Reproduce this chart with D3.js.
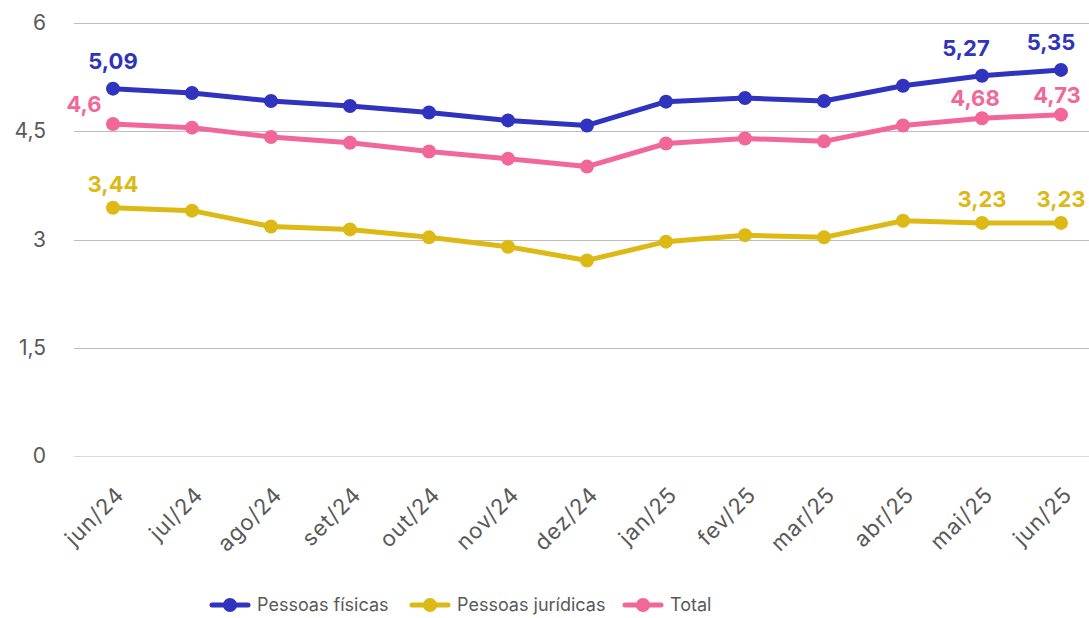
<!DOCTYPE html>
<html>
<head>
<meta charset="utf-8">
<script src="https://cdn.jsdelivr.net/npm/d3@7"></script>
<style>
  body { margin: 0; background: #fff; }
  svg { display: block; font-family: "Inter", "Lato", sans-serif; }
</style>
</head>
<body>
<div id="chart"></div>
<script>
var months = ['jun/24', 'jul/24', 'ago/24', 'set/24', 'out/24', 'nov/24', 'dez/24',
              'jan/25', 'fev/25', 'mar/25', 'abr/25', 'mai/25', 'jun/25'];
var fisicas   = [5.09, 5.03, 4.92, 4.85, 4.76, 4.65, 4.58, 4.91, 4.96, 4.92, 5.13, 5.27, 5.35];
var juridicas = [3.44, 3.40, 3.18, 3.14, 3.03, 2.90, 2.71, 2.97, 3.06, 3.03, 3.26, 3.23, 3.23];
var total     = [4.60, 4.55, 4.42, 4.34, 4.22, 4.12, 4.01, 4.33, 4.40, 4.36, 4.58, 4.68, 4.73];
var yTicks = [0, 1.5, 3, 4.5, 6];
// only these points get a value label
var labelled = [0, 11, 12];

var width = 1089, height = 618;

var series = [
    { name: 'Pessoas físicas', values: fisicas, color: '#2f33bd', dx: [0, -16, -10], dy: -20 },
    { name: 'Pessoas jurídicas', values: juridicas, color: '#dcb914', dx: [0, 0, 0], dy: -16 },
    { name: 'Total', values: total, color: '#f2679a', dx: [-29, -7, -4], dy: -12 }
];

var svg = d3.select('#chart').append('svg')
    .attr('width', width)
    .attr('height', height);

var x = d3.scalePoint()
    .domain(months)
    .range([113, 1061]);

var y = d3.scaleLinear()
    .domain([0, 6])
    .range([456, 23]);

// grid
svg.append('g').selectAll('line')
    .data(yTicks)
    .enter().append('line')
    .attr('x1', 74)
    .attr('x2', width)
    .attr('y1', function(d) { return Math.round(y(d)) + 0.5; })
    .attr('y2', function(d) { return Math.round(y(d)) + 0.5; })
    .style('stroke', function(d) { return d === 0 ? '#d9d9d9' : '#bdbdbd'; })
    .style('stroke-width', 1);

// y axis labels
var yAxis = d3.axisLeft(y)
    .tickValues(yTicks)
    .tickSize(0)
    .tickPadding(0)
    .tickFormat(function(d) { return String(d).replace('.', ','); });

svg.append('g')
    .attr('transform', 'translate(46,0)')
    .call(yAxis)
    .call(function(g) { g.select('.domain').remove(); })
    .selectAll('text')
    .attr('dy', '0.32em')
    .style('font-family', '"Inter", "Lato", sans-serif')
    .style('font-size', '21px')
    .style('fill', '#595959');

// x axis labels
var xAxis = d3.axisBottom(x).tickSize(0).tickPadding(0);
svg.append('g')
    .attr('transform', 'translate(0,456)')
    .call(xAxis)
    .call(function(g) { g.select('.domain').remove(); })
    .selectAll('text')
    .attr('text-anchor', 'end')
    .attr('dy', 0)
    .attr('transform', 'translate(12,40) rotate(-45)')
    .style('font-family', '"Inter", "Lato", sans-serif')
    .style('font-size', '22px')
    .style('letter-spacing', '1px')
    .style('fill', '#595959');

var line = d3.line()
    .x(function(d, i) { return x(months[i]); })
    .y(function(d) { return y(d); });

series.forEach(function(s) {
    var g = svg.append('g');
    g.append('path')
        .datum(s.values)
        .attr('d', line)
        .style('fill', 'none')
        .style('stroke', s.color)
        .style('stroke-width', 5)
        .style('stroke-linejoin', 'round');
    g.selectAll('circle')
        .data(s.values)
        .enter().append('circle')
        .attr('cx', function(d, i) { return x(months[i]); })
        .attr('cy', function(d) { return y(d); })
        .attr('r', 7)
        .style('fill', s.color);
    g.selectAll('text')
        .data(labelled)
        .enter().append('text')
        .attr('x', function(i, k) { return x(months[i]) + s.dx[k]; })
        .attr('y', function(i) { return y(s.values[i]) + s.dy; })
        .attr('text-anchor', 'middle')
        .style('font-size', '22px')
        .style('font-weight', 'bold')
        .style('fill', s.color)
        .text(function(i) { return String(s.values[i]).replace('.', ','); });
});

// legend
var legendX = [210, 410, 623];
var legend = svg.append('g').selectAll('g')
    .data(series)
    .enter().append('g')
    .attr('transform', function(d, i) { return 'translate(' + legendX[i] + ',605)'; });
legend.append('line')
    .attr('x1', 2).attr('x2', 38)
    .style('stroke', function(d) { return d.color; })
    .style('stroke-width', 5)
    .style('stroke-linecap', 'round');
legend.append('circle')
    .attr('cx', 20).attr('r', 7)
    .style('fill', function(d) { return d.color; });
legend.append('text')
    .attr('x', 47)
    .attr('dy', '0.35em')
    .style('font-size', '18px')
    .style('fill', '#595959')
    .text(function(d) { return d.name; });
</script>
</body>
</html>
